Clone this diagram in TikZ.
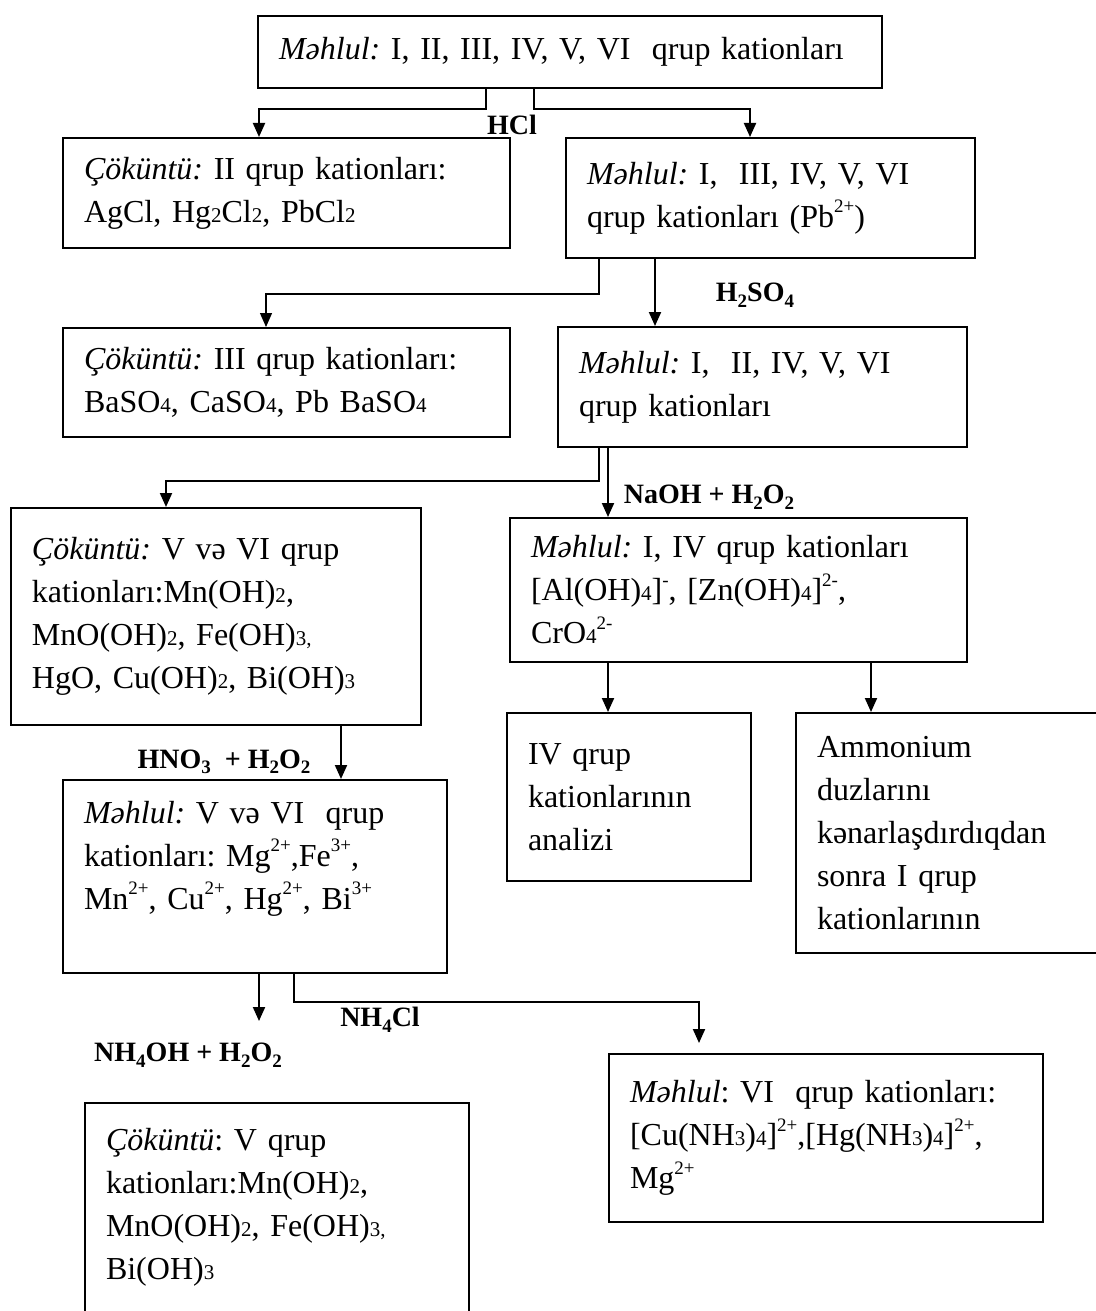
\documentclass[tikz,border=0pt]{standalone}
\usepackage{fontspec}
\setmainfont{Liberation Serif}
\usetikzlibrary{arrows.meta, calc}
\frenchspacing

% small digits sitting on the line, raised charges, lowered indices in labels
\newcommand{\lo}[1]{{\fontsize{10.5pt}{10.5pt}\selectfont #1}}
\newcommand{\up}[1]{\raisebox{0.45em}{\fontsize{9.5pt}{9.5pt}\selectfont #1}}
\newcommand{\dn}[1]{\raisebox{-0.2em}{\fontsize{9.5pt}{9.5pt}\selectfont #1}}

\begin{document}
\begin{tikzpicture}[
    x=0.5pt, y=-0.5pt,
    box/.style={draw, line width=1pt, anchor=north west, align=left,
                inner xsep=10.5pt, inner ysep=0pt,
                font=\fontsize{16pt}{21.5pt}\selectfont},
    arr/.style={-{Triangle[length=7pt, width=6pt]}, line width=1pt},
    thinarr/.style={arr, line width=0.6pt},
    lbl/.style={font=\fontsize{14pt}{16pt}\selectfont\bfseries, inner sep=0pt},
]
    \useasboundingbox (0,0) rectangle (1096,1311);
    \clip (0,0) rectangle (1096,1311);

    % Solutions and precipitates
    \node[box, text width=291pt, minimum height=36pt] (top) at (257,15)
        {\textit{Məhlul:} I, II, III, IV, V, VI\ \ qrup kationları};
    \node[box, text width=202.5pt, minimum height=55pt] (c2) at (62,137)
        {\textit{Çöküntü:} II qrup kationları:\\ AgCl, Hg\lo{2}Cl\lo{2}, PbCl\lo{2}};
    \node[box, text width=183.5pt, minimum height=60pt] (m1) at (565,137)
        {\textit{Məhlul:} I,\ \ III, IV, V, VI\\ qrup kationları (Pb\up{2+})};
    \node[box, text width=202.5pt, minimum height=54.5pt] (c3) at (62,327)
        {\textit{Çöküntü:} III qrup kationları:\\ BaSO\lo{4}, CaSO\lo{4}, Pb BaSO\lo{4}};
    \node[box, text width=183.5pt, minimum height=60pt] (m2) at (557,326)
        {\textit{Məhlul:} I,\ \ II, IV, V, VI\\ qrup kationları};
    \node[box, text width=184pt, minimum height=108.5pt] (c56) at (10,507)
        {\textit{Çöküntü:} V və VI qrup\\ kationları:Mn(OH)\lo{2},\\
         MnO(OH)\lo{2}, Fe(OH)\lo{3,}\\ HgO, Cu(OH)\lo{2}, Bi(OH)\lo{3}};
    \node[box, text width=207.5pt, minimum height=72pt] (m3) at (509,517)
        {\textit{Məhlul:} I, IV qrup kationları\\
         {[}Al(OH)\lo{4}]\up{-}, [Zn(OH)\lo{4}]\up{2-},\\ CrO\lo{4}\up{2-}};
    \node[box, text width=101pt, minimum height=84pt] (a4) at (506,712)
        {IV qrup\\ kationlarının\\ analizi};
    \node[box, text width=134pt, minimum height=120pt] (a1) at (795,712)
        {Ammonium\\ duzlarını\\ kənarlaşdırdıqdan\\ sonra I qrup\\ kationlarının};
    \node[box, text width=171pt, minimum height=96.5pt] (m56) at (62,779)
        {\textit{Məhlul:} V və VI\ \ qrup\\ kationları: Mg\up{2+},Fe\up{3+},\\
         Mn\up{2+}, Cu\up{2+}, Hg\up{2+}, Bi\up{3+}\\ \mbox{}};
    \node[box, text width=171pt, minimum height=122pt] (c5) at (84,1102)
        {\textit{Çöküntü}: V qrup\\ kationları:Mn(OH)\lo{2},\\
         MnO(OH)\lo{2}, Fe(OH)\lo{3,}\\ Bi(OH)\lo{3}\\ \mbox{}};
    \node[box, text width=196pt, minimum height=84pt] (m6) at (608,1053)
        {\textit{Məhlul}: VI\ \ qrup kationları:\\
         {[}Cu(NH\lo{3})\lo{4}]\up{2+},[Hg(NH\lo{3})\lo{4}]\up{2+},\\ Mg\up{2+}};

    % Reagents
    \node[lbl] (hcl)   at (512,125)  {HCl};
    \node[lbl] (h2so4) at (755,295)  {H\dn{2}SO\dn{4}};
    \node[lbl] (naoh)  at (709,497)  {NaOH + H\dn{2}O\dn{2}};
    \node[lbl] (hno3)  at (224,762)  {HNO\dn{3}\ \ + H\dn{2}O\dn{2}};
    \node[lbl] (nh4cl) at (380,1020) {NH\dn{4}Cl};
    \node[lbl] (nh4oh) at (188,1055) {NH\dn{4}OH + H\dn{2}O\dn{2}};

    % Arrows
    \draw[arr] ($(top.south west)+(229,0)$) -- ++(0,20) -| ($(c2.north west)+(197,0)$);
    \draw[arr] ($(top.south west)+(277,0)$) -- ++(0,20) -| ($(m1.north west)+(185,0)$);
    \draw[thinarr] ($(m1.south west)+(34,0)$) -- ++(0,35) -| ($(c3.north west)+(204,0)$);
    \draw[arr] ($(m1.south west)+(90,0)$) -- ($(m2.north west)+(98,0)$);
    \draw[arr] ($(m2.south west)+(42,0)$) -- ++(0,33) -| ($(c56.north west)+(156,0)$);
    \draw[arr] ($(m2.south west)+(51,0)$) -- ($(m3.north west)+(99,0)$);
    \draw[arr] ($(m3.south west)+(99,0)$) -- ($(a4.north west)+(102,0)$);
    \draw[arr] ($(m3.south west)+(362,0)$) -- ($(a1.north west)+(76,0)$);
    \draw[arr] ($(c56.south west)+(331,0)$) -- ($(m56.north west)+(279,0)$);
    \draw[arr] ($(m56.south west)+(197,0)$) -- ++(0,47);
    \draw[arr] ($(m56.south west)+(232,0)$) -- ++(0,28) -| ($(m6.north west)+(91,-10)$);
\end{tikzpicture}
\end{document}
